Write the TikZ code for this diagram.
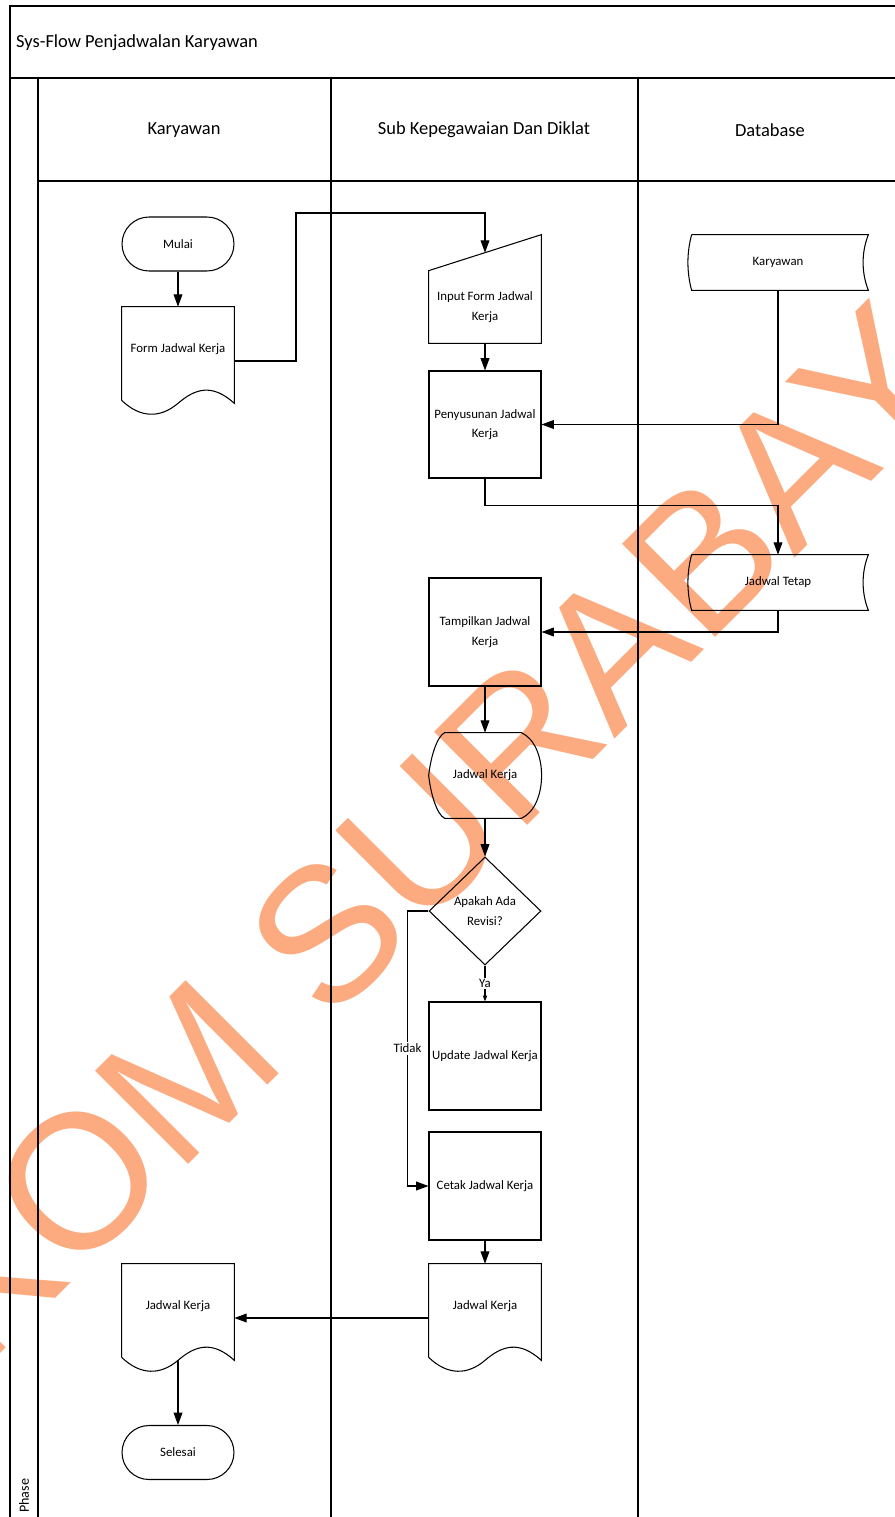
\documentclass[tikz,border=0pt]{standalone}
\usepackage{fontspec}
\setmainfont{Carlito}
\newfontfamily\wmfont{Liberation Sans}
\usetikzlibrary{arrows.meta,shapes.geometric,calc}
\definecolor{wmorange}{RGB}{252,171,128}

% outlines drawn round plain boxes
\newcommand\docshape[1]{%
  \draw[shp] ($(#1.south west)+(0,9)$) -- (#1.north west) -- (#1.north east)
    -- ($(#1.south east)+(0,12)$)
    .. controls ($(#1.south east)+(-22,-8)$) and ($(#1.south east)+(-39,-3)$) .. ($(#1.south)+(0,12)$)
    .. controls ($(#1.south east)+(-74,27)$) and ($(#1.south east)+(-94,27)$) .. ($(#1.south west)+(0,9)$);}
\newcommand\dbshape[1]{%
  \draw[shp] ($(#1.north west)+(4,0)$) -- (#1.north east)
    .. controls ($(#1.north east)+(-7,18)$) and ($(#1.south east)+(-7,-18)$) .. (#1.south east)
    -- ($(#1.south west)+(4,0)$)
    .. controls ($(#1.south west)+(-1,-18)$) and ($(#1.north west)+(-1,18)$) .. ($(#1.north west)+(4,0)$);}
\newcommand\dispshape[1]{%
  \draw[shp] ($(#1.north west)+(16,0)$) -- ($(#1.north east)+(-20,0)$)
    .. controls ($(#1.north east)+(7,12)$) and ($(#1.south east)+(7,-12)$) .. ($(#1.south east)+(-20,0)$)
    -- ($(#1.south west)+(16,0)$)
    .. controls ($(#1.south west)+(8,-4)$) and ($(#1.west)+(2,18)$) .. (#1.west)
    .. controls ($(#1.west)+(2,-18)$) and ($(#1.north west)+(8,4)$) .. ($(#1.north west)+(16,0)$);}

\begin{document}
\begin{tikzpicture}[x=0.02cm, y=-0.02cm,
    every node/.style={font=\fontsize{7.3}{11}\selectfont},
    laneline/.style={line width=0.9pt},
    shp/.style={line width=0.6pt},
    txtbox/.style={minimum width=2.24cm, minimum height=1.68cm, inner sep=0pt, align=center},
    proc/.style={txtbox, draw, shp, minimum height=2.16cm},
    term/.style={txtbox, draw, shp, minimum height=1.08cm, rounded corners=0.54cm},
    dec/.style={diamond, draw, shp, aspect=1, minimum width=2.24cm, minimum height=2.16cm, inner sep=0pt, align=center},
    store/.style={txtbox, minimum width=3.6cm, minimum height=1.1cm},
    arr/.style={shp, -{Triangle[length=7pt, width=5pt]}},
    arrsmall/.style={shp, -{Triangle[length=3.4pt, width=2.4pt]}},
    lbl/.style={fill=white, inner sep=1pt},
    head/.style={font=\fontsize{10.5}{12}\selectfont}]
  \useasboundingbox (0,0) rectangle (895,1517);
  \clip (0,0) rectangle (895,1517);
  \fill[white] (0,0) rectangle (895,1517);

  % watermark
  \node[rotate=45, text=wmorange, inner sep=0pt, font=\wmfont\fontsize{109}{110}\selectfont] (wm) at (362,898) {STIKOM SURABAYA};

  % pool and lanes
  \draw[laneline] (10,1530) -- (10,6) -- (910,6);
  \draw[laneline] (10,78) -- (910,78);
  \draw[laneline] (38,181) -- (910,181);
  \draw[laneline] (38,78) -- (38,1530);
  \draw[laneline] (331,78) -- (331,1530);
  \draw[laneline] (638,78) -- (638,1530);
  \node[head, anchor=west] (judul) at (10,43) {Sys-Flow Penjadwalan Karyawan};
  \node[head] (lanekar) at (184,130) {Karyawan};
  \node[head] (lanesub) at (484,130) {Sub Kepegawaian Dan Diklat};
  \node[head] (lanedb) at (770,130) {Database};
  \node[rotate=90, anchor=west, font=\fontsize{8}{9}\selectfont] (phase) at (24,1519) {Phase};

  % Karyawan
  \node[term] (mulai) at (178,244) {Mulai};
  \node[txtbox] (form) at (178,349) {Form Jadwal Kerja};
  \docshape{form}
  \node[txtbox] (jkkar) at (178,1306) {Jadwal Kerja};
  \docshape{jkkar}
  \node[term] (selesai) at (178,1452.5) {Selesai};

  % Sub Kepegawaian Dan Diklat
  \node[txtbox, minimum height=1.44cm] (input) at (485,307) {Input Form Jadwal\\Kerja};
  \draw[shp] (input.north west) -- (input.south west) -- (input.south east)
    -- ($(input.north east)+(0,-36)$) -- cycle;
  \coordinate (intop) at ($(input.north)+(0,-18)$);
  \node[proc, minimum height=2.14cm] (susun) at (485,424.5) {Penyusunan Jadwal\\Kerja};
  \node[proc] (tampil) at (485,632) {Tampilkan Jadwal\\Kerja};
  \node[txtbox, minimum height=1.7cm] (layar) at (485,775.5) {Jadwal Kerja};
  \dispshape{layar}
  \node[dec] (revisi) at (485,911) {Apakah Ada\\Revisi?};
  \node[proc] (update) at (485,1056) {Update Jadwal Kerja};
  \node[proc] (cetak) at (485,1186) {Cetak Jadwal Kerja};
  \node[txtbox] (jkcetak) at (485,1306) {Jadwal Kerja};
  \docshape{jkcetak}

  % Database
  \node[store] (dbkar) at (778,262.5) {Karyawan};
  \dbshape{dbkar}
  \node[store] (dbtetap) at (778,582.5) {Jadwal Tetap};
  \dbshape{dbtetap}

  % connectors
  \draw[arr] (mulai) -- (form);
  \draw[arr] ($(form.east)+(0,12)$) -| (296,213) -| (intop);
  \draw[arr] (input) -- (susun);
  \draw[arr] (dbkar.south) |- (susun.east);
  \draw[arr] (susun.south) -- ++(0,27) -| (dbtetap.north);
  \draw[arr] (dbtetap.south) |- (tampil.east);
  \draw[arr] (tampil) -- (layar);
  \draw[arr] (layar) -- (revisi);
  \draw[arrsmall] (revisi.south) -- node[lbl] {Ya} (update.north);
  \draw[arr] (revisi.west) -- ++(-21,0) |- node[lbl, pos=0.25] {Tidak} (cetak.west);
  \draw[arr] (cetak) -- (jkcetak);
  \draw[arr] ($(jkcetak.west)+(0,12)$) -- ($(jkkar.east)+(0,12)$);
  \draw[arr] ($(jkkar.south)+(0,12)$) -- (selesai);
\end{tikzpicture}
\end{document}
